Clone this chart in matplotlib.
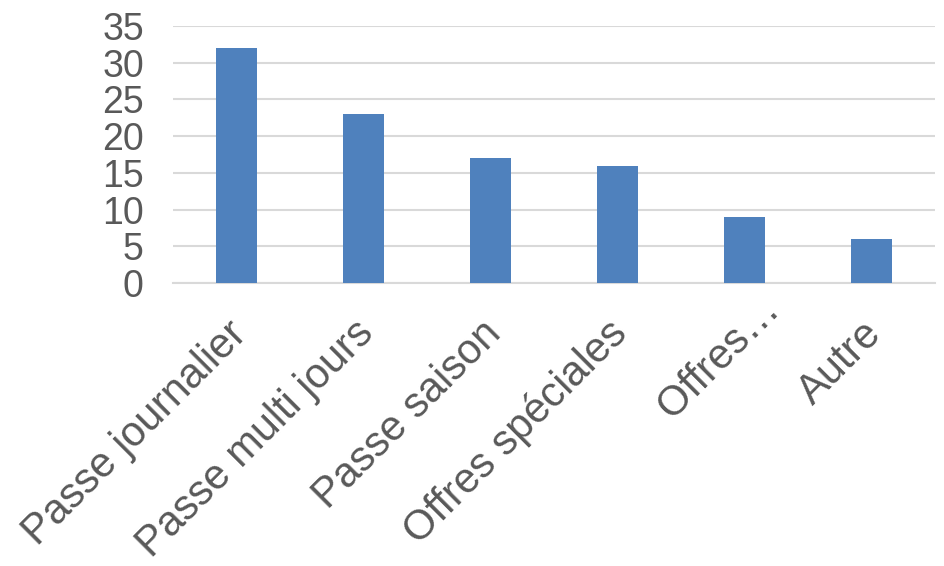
import matplotlib.pyplot as plt
import matplotlib.transforms as mtransforms
import numpy as np

categories = ['Passe journalier', 'Passe multi jours', 'Passe saison',
              'Offres spéciales', 'Offres…', 'Autre']
counts = [32, 23, 17, 16, 9, 6]
y_ticks = [0, 5, 10, 15, 20, 25, 30, 35]

plt.rcParams['font.family'] = ['Liberation Sans', 'DejaVu Sans']

fig = plt.figure(figsize=(9.44, 5.66), dpi=100)
ax = fig.add_axes([173 / 944, 1 - 283 / 566, (935 - 173) / 944, (283 - 26) / 566])

x = np.arange(len(categories))
ax.bar(x, counts, width=0.315, color='#4f81bd', zorder=3)

ax.set_xlim(-0.5, len(categories) - 0.5)
ax.set_ylim(0, 35)
ax.set_yticks(y_ticks)
ax.yaxis.grid(True, color='#d9d9d9', linewidth=1.5, zorder=0)
ax.set_axisbelow(True)

for side in ['top', 'right', 'left']:
    ax.spines[side].set_visible(False)
ax.spines['bottom'].set_color('#d9d9d9')
ax.spines['bottom'].set_linewidth(1.5)

ax.tick_params(axis='both', length=0, labelcolor='#595959')
ax.tick_params(axis='y', labelsize=27, pad=21)
ax.tick_params(axis='x', labelsize=30, pad=37)
ax.set_xticks(x)
ax.set_xticklabels(categories, rotation=45, ha='right', va='baseline',
                   rotation_mode='anchor')

# nudge the slanted labels a little to the right of each tick;
# the truncated label sits further along its slant
for lbl in ax.get_xticklabels():
    dx, dy = 12, -1
    if lbl.get_text().endswith('…'):
        dx, dy = 37, 24
    shift = mtransforms.ScaledTranslation(dx / 100, dy / 100, fig.dpi_scale_trans)
    lbl.set_transform(lbl.get_transform() + shift)

fig.savefig('out.png', dpi=100)
